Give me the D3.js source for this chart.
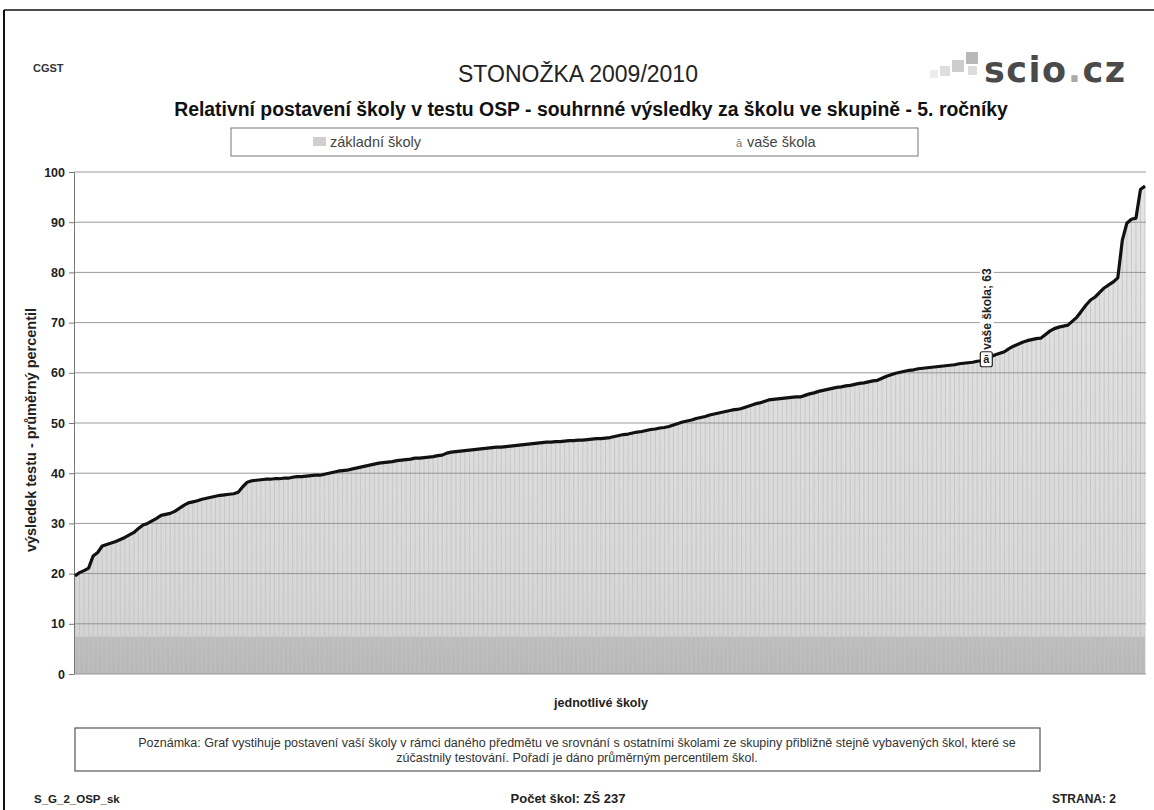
<!DOCTYPE html>
<html>
<head>
<meta charset="utf-8">
<script src="https://cdn.jsdelivr.net/npm/d3@7"></script>
<style>
  html, body { margin: 0; padding: 0; background: #fff; }
  svg { display: block; font-family: "Liberation Sans", Arial, sans-serif; }
</style>
</head>
<body>
<svg id="chart" width="1154" height="810"></svg>
<script>
// ---- data ----
const schoolValues = [
  19.5, 20.2, 20.6, 21.1, 23.5, 24.2, 25.5, 25.8, 26.1, 26.4,
  26.8, 27.2, 27.7, 28.2, 29.0, 29.7, 30.0, 30.5, 31.0, 31.6,
  31.8, 32.0, 32.4, 33.0, 33.6, 34.1, 34.3, 34.5, 34.8, 35.0,
  35.2, 35.4, 35.6, 35.7, 35.8, 35.9, 36.2, 37.3, 38.2, 38.5,
  38.6, 38.7, 38.8, 38.8, 38.9, 38.9, 39.0, 39.0, 39.2, 39.3,
  39.3, 39.4, 39.5, 39.6, 39.6, 39.8, 40.0, 40.2, 40.4, 40.5,
  40.6, 40.8, 41.0, 41.2, 41.4, 41.6, 41.8, 42.0, 42.1, 42.2,
  42.3, 42.5, 42.6, 42.7, 42.8, 43.0, 43.0, 43.1, 43.2, 43.3,
  43.5, 43.6, 44.0, 44.2, 44.3, 44.4, 44.5, 44.6, 44.7, 44.8,
  44.9, 45.0, 45.1, 45.2, 45.2, 45.3, 45.4, 45.5, 45.6, 45.7,
  45.8, 45.9, 46.0, 46.1, 46.2, 46.2, 46.3, 46.3, 46.4, 46.5,
  46.5, 46.6, 46.6, 46.7, 46.8, 46.9, 46.9, 47.0, 47.1, 47.3,
  47.5, 47.7, 47.8, 48.0, 48.2, 48.3, 48.5, 48.7, 48.8, 49.0,
  49.1, 49.3, 49.6, 49.9, 50.2, 50.4, 50.6, 50.9, 51.1, 51.3,
  51.6, 51.8, 52.0, 52.2, 52.4, 52.6, 52.7, 52.9, 53.2, 53.5,
  53.8, 54.0, 54.3, 54.6, 54.7, 54.8, 54.9, 55.0, 55.1, 55.2,
  55.2, 55.5, 55.8, 56.0, 56.3, 56.5, 56.7, 56.9, 57.1, 57.2,
  57.4, 57.5, 57.7, 57.9, 58.0, 58.2, 58.4, 58.5, 58.9, 59.3,
  59.6, 59.9, 60.1, 60.3, 60.5, 60.6, 60.8, 60.9, 61.0, 61.1,
  61.2, 61.3, 61.4, 61.5, 61.6, 61.8, 61.9, 62.0, 62.1, 62.3,
  62.4, 62.6, 63.2, 63.6, 63.9, 64.2, 64.8, 65.3, 65.7, 66.1,
  66.4, 66.6, 66.8, 66.9, 67.6, 68.3, 68.8, 69.1, 69.3, 69.5,
  70.3, 71.1, 72.3, 73.5, 74.5, 75.1, 76.0, 76.9, 77.5, 78.1,
  78.9, 86.4, 89.8, 90.6, 90.8, 96.5, 97.2
];
const yourSchoolIndex = 201;
const yourSchoolLabel = "vaše škola";
const yTicks = [0, 10, 20, 30, 40, 50, 60, 70, 80, 90, 100];
const legendLabels = ["základní školy", "vaše škola"];

const headerLeft = "CGST";
const titleText = "STONOŽKA 2009/2010";
const subtitleText = "Relativní postavení školy v testu OSP - souhrnné výsledky za školu ve skupině - 5. ročníky";
const yAxisTitle = "výsledek testu - průměrný percentil";
const xAxisTitle = "jednotlivé školy";
const noteLines = [
  "Poznámka: Graf vystihuje postavení vaší školy v rámci daného předmětu ve srovnání s ostatními školami ze skupiny přibližně stejně vybavených škol, které se",
  "zúčastnily testování. Pořadí je dáno průměrným percentilem škol."
];
const footerLeft = "S_G_2_OSP_sk";
const footerCenter = "Počet škol: ZŠ 237";
const footerRight = "STRANA: 2";

// ---- layout ----
const svg = d3.select("#chart");
const W = 1154, H = 810;
const plot = { left: 74, right: 1146, top: 172, bottom: 674 };

const x = d3.scalePoint()
  .domain(d3.range(schoolValues.length))
  .range([plot.left + 1, plot.right - 1]);
const y = d3.scaleLinear().domain([0, 100]).range([plot.bottom, plot.top]);

// page frame
svg.append("line").attr("x1", 4).attr("x2", W).attr("y1", 10).attr("y2", 10)
  .attr("stroke", "#111").attr("stroke-width", 1.6);
svg.append("line").attr("x1", 4).attr("x2", 4).attr("y1", 10).attr("y2", H)
  .attr("stroke", "#111").attr("stroke-width", 2);

// header
svg.append("text").attr("x", 33).attr("y", 72).text(headerLeft)
  .attr("font-size", 11).attr("font-weight", "bold").attr("fill", "#333");
svg.append("text").attr("x", 578).attr("y", 82).attr("text-anchor", "middle")
  .text(titleText).attr("font-size", 23).attr("fill", "#222");
svg.append("text").attr("x", 591).attr("y", 116).attr("text-anchor", "middle")
  .text(subtitleText).attr("font-size", 19.4).attr("font-weight", "bold").attr("fill", "#111");

// logo
const logo = svg.append("g");
const sq = [[930, 70, 8, "#ececec"], [940, 66, 10, "#dedede"], [952, 60, 12, "#cdcdcd"], [966, 52, 12, "#b8b8b8"], [968, 66, 9, "#dcdcdc"]];
logo.selectAll("rect").data(sq).join("rect")
  .attr("x", d => d[0]).attr("y", d => d[1]).attr("width", d => d[2]).attr("height", d => d[2])
  .attr("fill", d => d[3]);
const lt = logo.append("text").attr("x", 984).attr("y", 82)
  .attr("font-family", "'DejaVu Sans', sans-serif").attr("font-size", 35).attr("font-weight", "bold")
  .attr("fill", "#4a4a4a").attr("letter-spacing", 1.5);
lt.append("tspan").text("scio");
lt.append("tspan").text(".").attr("fill", "#aaa");
lt.append("tspan").text("cz");

// legend
const lg = svg.append("g");
lg.append("rect").attr("x", 231).attr("y", 128).attr("width", 687).attr("height", 28)
  .attr("fill", "#fff").attr("stroke", "#777").attr("stroke-width", 1);
lg.append("rect").attr("x", 313).attr("y", 137).attr("width", 13).attr("height", 9).attr("fill", "#cfcfcf");
lg.append("text").attr("x", 330).attr("y", 147).text(legendLabels[0]).attr("font-size", 14.5).attr("fill", "#444");
lg.append("text").attr("x", 736).attr("y", 147).text("ā").attr("font-size", 11).attr("fill", "#777");
lg.append("text").attr("x", 747).attr("y", 147).text(legendLabels[1]).attr("font-size", 14.5).attr("fill", "#444");

// fill gradient
const defs = svg.append("defs");
const grad = defs.append("linearGradient").attr("id", "fillGrad")
  .attr("gradientUnits", "userSpaceOnUse")
  .attr("x1", 0).attr("x2", 0).attr("y1", y(100)).attr("y2", y(0));
grad.append("stop").attr("offset", 0).attr("stop-color", "#e4e4e4");
grad.append("stop").attr("offset", 0.78).attr("stop-color", "#d9d9d9");
grad.append("stop").attr("offset", 0.925).attr("stop-color", "#d3d3d3");
grad.append("stop").attr("offset", 0.926).attr("stop-color", "#bdbdbd");
grad.append("stop").attr("offset", 1).attr("stop-color", "#b8b8b8");

// area under curve
const area = d3.area().x((d, i) => x(i)).y0(y(0)).y1(d => y(d));
svg.append("path").datum(schoolValues).attr("d", area).attr("fill", "url(#fillGrad)");

// per-school vertical strokes (texture)
svg.append("g").selectAll("line").data(schoolValues).join("line")
  .attr("x1", (d, i) => x(i)).attr("x2", (d, i) => x(i))
  .attr("y1", y(0)).attr("y2", d => y(d))
  .attr("stroke", "#c3c3c3").attr("stroke-width", 1).attr("opacity", 0.8);

// gridlines
svg.append("g").selectAll("line").data(yTicks.filter(t => t > 0)).join("line")
  .attr("x1", plot.left).attr("x2", plot.right)
  .attr("y1", d => y(d)).attr("y2", d => y(d))
  .attr("stroke", "#8a8a8a").attr("stroke-width", 1).attr("opacity", 0.85);

// y axis
const yAxis = d3.axisLeft(y).tickValues(yTicks).tickSize(5).tickPadding(4);
const ya = svg.append("g").attr("transform", `translate(${plot.left},0)`).call(yAxis);
ya.select(".domain").attr("stroke", "#777");
ya.selectAll(".tick line").attr("stroke", "#777");
ya.selectAll(".tick text").attr("font-size", 12.5).attr("font-weight", "bold").attr("fill", "#222")
  .attr("font-family", "'Liberation Sans', Arial, sans-serif");

// x baseline
svg.append("line").attr("x1", plot.left).attr("x2", plot.right).attr("y1", y(0)).attr("y2", y(0))
  .attr("stroke", "#999").attr("stroke-width", 1);

// curve
const line = d3.line().x((d, i) => x(i)).y(d => y(d));
svg.append("path").datum(schoolValues).attr("d", line)
  .attr("fill", "none").attr("stroke", "#111").attr("stroke-width", 3.2)
  .attr("stroke-linejoin", "round");

// your school marker + label
const yx = x(yourSchoolIndex), yv = schoolValues[yourSchoolIndex];
const my = svg.append("g");
const lblG = my.append("g").attr("transform", `translate(${yx + 4.5},${y(yv) - 10}) rotate(-90)`);
const lbl = lblG.append("text").attr("x", 0).attr("y", 0)
  .text(`${yourSchoolLabel}; ${Math.round(yv)}`).attr("font-size", 12).attr("font-weight", "bold").attr("fill", "#222");
const bb = lbl.node().getBBox();
lblG.insert("rect", "text").attr("x", bb.x - 1).attr("y", bb.y).attr("width", bb.width + 2).attr("height", bb.height)
  .attr("fill", "#fff").attr("opacity", 0.9);
my.append("rect").attr("x", yx - 6).attr("y", y(yv) - 8).attr("width", 12).attr("height", 15)
  .attr("rx", 2).attr("fill", "#fff").attr("stroke", "#222").attr("stroke-width", 1.2);
my.append("text").attr("x", yx).attr("y", y(yv) + 3).attr("text-anchor", "middle")
  .text("ā").attr("font-size", 11).attr("font-weight", "bold").attr("fill", "#222");

// axis titles
svg.append("text").attr("transform", `translate(36,${(plot.top + plot.bottom) / 2 + 7}) rotate(-90)`)
  .attr("text-anchor", "middle").text(yAxisTitle)
  .attr("font-size", 14.5).attr("font-weight", "bold").attr("fill", "#222");
svg.append("text").attr("x", 601).attr("y", 707).attr("text-anchor", "middle").text(xAxisTitle)
  .attr("font-size", 12.5).attr("font-weight", "bold").attr("fill", "#222");

// note box
svg.append("rect").attr("x", 75).attr("y", 728).attr("width", 965).attr("height", 43)
  .attr("fill", "#fff").attr("stroke", "#555").attr("stroke-width", 1.2);
svg.append("g").selectAll("text").data(noteLines).join("text")
  .attr("x", 577).attr("y", (d, i) => 747 + i * 15).attr("text-anchor", "middle")
  .text(d => d).attr("font-size", 12.5).attr("fill", "#333");

// footer
svg.append("text").attr("x", 34).attr("y", 803).text(footerLeft)
  .attr("font-size", 11.5).attr("font-weight", "bold").attr("fill", "#222");
svg.append("text").attr("x", 568).attr("y", 803).attr("text-anchor", "middle").text(footerCenter)
  .attr("font-size", 13).attr("font-weight", "bold").attr("fill", "#222");
svg.append("text").attr("x", 1116).attr("y", 803).attr("text-anchor", "end").text(footerRight)
  .attr("font-size", 12).attr("font-weight", "bold").attr("fill", "#222");
</script>
</body>
</html>
